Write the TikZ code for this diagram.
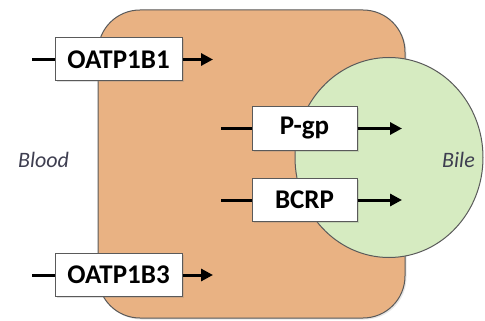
\documentclass[tikz,border=0pt]{standalone}
\usepackage{fontspec}
\setmainfont{Carlito}
\usetikzlibrary{arrows.meta,shadows}

\definecolor{cellfill}{HTML}{E9B283}
\definecolor{bilefill}{HTML}{D6EBC1}
\definecolor{rim}{HTML}{5A5A5A}
\definecolor{sidetext}{HTML}{3E3E50}

\begin{document}
\begin{tikzpicture}[x=1pt, y=-1pt,
  carrier/.style={draw=rim, fill=white, line width=1pt, minimum height=43pt,
    inner sep=0pt, font=\fontsize{27}{30}\selectfont\bfseries,
    drop shadow={opacity=0.25, shadow xshift=1.5pt, shadow yshift=-1.5pt}},
  lead/.style={line width=3pt},
  flux/.style={line width=3pt, -{Triangle[length=12pt, width=12pt]}},
  side/.style={text=sidetext, font=\fontsize{22}{26}\selectfont\itshape}]
\useasboundingbox (0, 0) rectangle (485, 321);
% hepatocyte and bile canaliculus
\draw[draw=rim, fill=cellfill, line width=1pt, rounded corners=42pt,
  drop shadow={opacity=0.2, shadow xshift=1.5pt, shadow yshift=-1.5pt}]
  (98, 10) rectangle (405, 318);
\draw[draw=rim, fill=bilefill, line width=1pt] (389, 157.5) ellipse [x radius=94, y radius=100];
\node[side] (blood) at (43.5, 160) {Blood};
\node[side] (bile) at (458.5, 160) {Bile};
% uptake transporters
\node[carrier, minimum width=127pt] (oatp1) at (118.5, 59.5) {OATP1B1};
\coordinate (in1) at (32, 59.5);
\coordinate (out1) at (213, 59.5);
\draw[lead] (in1) -- (oatp1);
\draw[flux] (oatp1) -- (out1);
\node[carrier, minimum width=127pt] (oatp3) at (118.5, 275) {OATP1B3};
\coordinate (in3) at (32, 275);
\coordinate (out3) at (213, 275);
\draw[lead] (in3) -- (oatp3);
\draw[flux] (oatp3) -- (out3);
% efflux transporters
\node[carrier, minimum width=105pt] (pgp) at (304.5, 128.5) {P-gp};
\coordinate (inp) at (221, 128.5);
\coordinate (outp) at (402, 128.5);
\draw[lead] (inp) -- (pgp);
\draw[flux] (pgp) -- (outp);
\node[carrier, minimum width=105pt] (bcrp) at (304.5, 200) {BCRP};
\coordinate (inb) at (221, 200);
\coordinate (outb) at (402, 200);
\draw[lead] (inb) -- (bcrp);
\draw[flux] (bcrp) -- (outb);
\end{tikzpicture}
\end{document}
